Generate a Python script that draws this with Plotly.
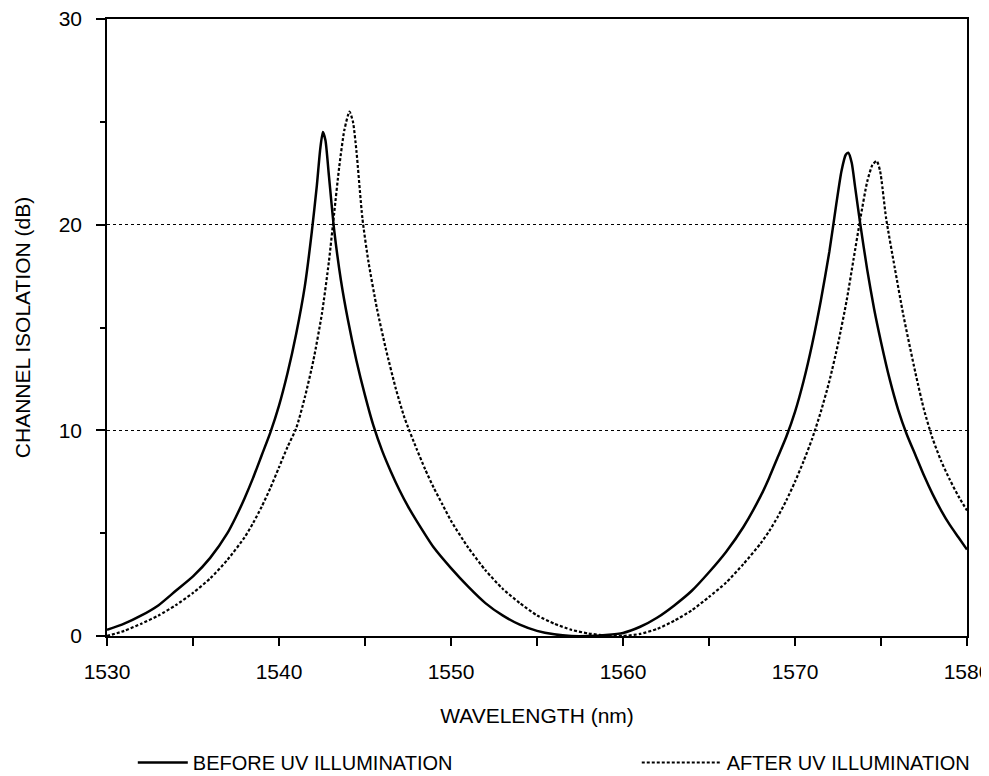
import plotly.graph_objects as go

# ---- data ----
before_wavelength = [1530.0, 1531.0, 1532.0, 1533.0, 1534.0, 1535.0, 1536.0, 1537.0, 1537.5, 1538.0,
                     1538.5, 1539.0, 1539.5, 1540.0, 1540.5, 1541.0, 1541.5, 1541.9, 1542.2, 1542.4,
                     1542.55, 1542.7, 1542.9, 1543.2, 1543.6, 1544.0, 1544.5, 1545.0, 1545.5, 1546.0,
                     1546.5, 1547.0, 1547.5, 1548.0, 1549.0, 1550.0, 1551.0, 1552.0, 1553.0, 1554.0,
                     1555.0, 1556.0, 1557.0, 1558.0, 1559.0, 1560.0, 1561.0, 1562.0, 1563.0, 1564.0,
                     1565.0, 1566.0, 1567.0, 1568.0, 1568.5, 1569.0, 1569.5, 1570.0, 1570.5, 1571.0,
                     1571.5, 1572.0, 1572.4, 1572.7, 1572.95, 1573.1, 1573.3, 1573.5, 1573.8, 1574.2,
                     1574.6, 1575.0, 1575.5, 1576.0, 1576.5, 1577.0, 1577.5, 1578.0, 1578.5, 1579.0,
                     1579.5, 1580.0]
before_isolation = [0.3, 0.6, 1.0, 1.5, 2.2, 2.9, 3.8, 5.0, 5.8, 6.7,
                    7.7, 8.8, 9.9, 11.2, 12.8, 14.7, 17.0, 19.6, 21.9, 23.7,
                    24.5, 24.1, 22.4, 19.8, 17.3, 15.4, 13.4, 11.7, 10.2, 9.0,
                    8.0, 7.1, 6.3, 5.6, 4.3, 3.3, 2.4, 1.6, 1.0, 0.55,
                    0.25, 0.08, 0.0, 0.0, 0.05, 0.15, 0.45, 0.9, 1.5, 2.2,
                    3.1, 4.1, 5.3, 6.8, 7.7, 8.7, 9.7, 10.9, 12.4, 14.2,
                    16.3, 18.7, 21.0, 22.6, 23.4, 23.5, 23.0, 21.8, 20.0, 17.8,
                    15.9, 14.3, 12.5, 11.0, 9.8, 8.8, 7.8, 6.9, 6.1, 5.4,
                    4.8, 4.2]

after_wavelength = [1530.0, 1531.0, 1532.0, 1533.0, 1534.0, 1535.0, 1536.0, 1537.0, 1538.0, 1538.5,
                    1539.0, 1539.5, 1540.0, 1540.5, 1541.0, 1541.5, 1542.0, 1542.5, 1542.9, 1543.2,
                    1543.5, 1543.8, 1544.1, 1544.3, 1544.5, 1544.85, 1545.2, 1545.7, 1546.2, 1546.8,
                    1547.3, 1548.0, 1548.5, 1549.0, 1549.5, 1550.0, 1551.0, 1552.0, 1553.0, 1554.0,
                    1555.0, 1556.0, 1557.0, 1558.0, 1559.0, 1560.0, 1561.0, 1562.0, 1563.0, 1564.0,
                    1565.0, 1566.0, 1567.0, 1568.0, 1568.5, 1569.0, 1569.5, 1570.0, 1570.5, 1571.0,
                    1571.5, 1572.0, 1572.5, 1573.0, 1573.4, 1573.8, 1574.2, 1574.5, 1574.75, 1574.95,
                    1575.3, 1575.8, 1576.3, 1577.0, 1577.5, 1578.0, 1578.5, 1579.0, 1579.5, 1580.0]
after_isolation = [0.0, 0.25, 0.6, 1.0, 1.5, 2.1, 2.8, 3.7, 4.8, 5.5,
                   6.3, 7.2, 8.2, 9.2, 10.1, 11.6, 13.4, 15.7, 18.2, 20.5,
                   22.8, 24.6, 25.5, 25.0, 23.6, 20.3, 18.2, 15.9, 14.0, 12.0,
                   10.6, 9.1, 8.1, 7.2, 6.4, 5.6, 4.3, 3.2, 2.3, 1.6,
                   1.0, 0.6, 0.3, 0.12, 0.03, 0.0, 0.1, 0.35, 0.75, 1.25,
                   1.9, 2.6, 3.5, 4.5, 5.1, 5.8, 6.6, 7.5, 8.5, 9.6,
                   10.9, 12.4, 14.2, 16.3, 18.3, 20.3, 22.1, 22.9, 23.1, 22.6,
                   20.3, 17.9, 15.6, 12.8, 11.0, 9.6, 8.5, 7.6, 6.8, 6.1]

x_tick_values = [1530, 1535, 1540, 1545, 1550, 1555, 1560, 1565, 1570, 1575, 1580]
x_tick_labels = ["1530", "", "1540", "", "1550", "", "1560", "", "1570", "", "1580"]
y_tick_values = [0, 10, 20, 30]
y_minor_ticks = [5, 15, 25]

FONT = "Liberation Sans, Arial, sans-serif"

fig = go.Figure()
fig.add_trace(go.Scatter(
    x=before_wavelength, y=before_isolation, mode="lines",
    name="BEFORE UV ILLUMINATION",
    line=dict(color="black", width=2.5, shape="spline", smoothing=0.6),
    legend="legend",
))
fig.add_trace(go.Scatter(
    x=after_wavelength, y=after_isolation, mode="lines",
    name="AFTER UV ILLUMINATION",
    line=dict(color="black", width=2.2, dash="3px,2px", shape="spline", smoothing=0.6),
    legend="legend2",
))

# the page adds an 8px body margin, so the figure is sized/offset to compensate
fig.update_layout(
    width=981, height=768,
    margin=dict(l=99, r=22, t=11, b=140, autoexpand=False),
    paper_bgcolor="white", plot_bgcolor="white",
    font=dict(family=FONT, color="black", size=20),
    legend=dict(x=0.03, y=-0.205, xanchor="left", yanchor="middle",
                font=dict(size=20, family=FONT), bgcolor="rgba(0,0,0,0)",
                itemwidth=50),
    legend2=dict(x=0.616, y=-0.205, xanchor="left", yanchor="middle",
                 font=dict(size=20, family=FONT), bgcolor="rgba(0,0,0,0)",
                 itemwidth=80),
    showlegend=True,
)
fig.update_xaxes(
    range=[1530, 1580], tickvals=x_tick_values, ticktext=x_tick_labels,
    ticks="outside", ticklen=8, tickwidth=1.5, tickcolor="black",
    showline=True, linecolor="black", linewidth=1.5, mirror=True,
    showgrid=False, zeroline=False, automargin=False,
    tickfont=dict(size=21, family=FONT), ticklabelstandoff=8,
    ticklabeloverflow="allow",
    title=dict(text="WAVELENGTH (nm)", font=dict(size=21, family=FONT), standoff=26),
)
fig.update_yaxes(
    range=[0, 30], tickvals=y_tick_values,
    ticks="outside", ticklen=9, tickwidth=1.5, tickcolor="black",
    minor=dict(tickvals=y_minor_ticks, ticks="outside", ticklen=5, tickcolor="black", showgrid=False),
    showline=True, linecolor="black", linewidth=1.5, mirror=True,
    showgrid=True, gridcolor="black", gridwidth=1, griddash="dot",
    zeroline=False, automargin=False,
    tickfont=dict(size=21, family=FONT), ticklabelstandoff=10,
    ticklabeloverflow="allow",
    title=dict(text="CHANNEL ISOLATION (dB)", font=dict(size=21, family=FONT), standoff=22),
)

fig.write_html("out.html")
